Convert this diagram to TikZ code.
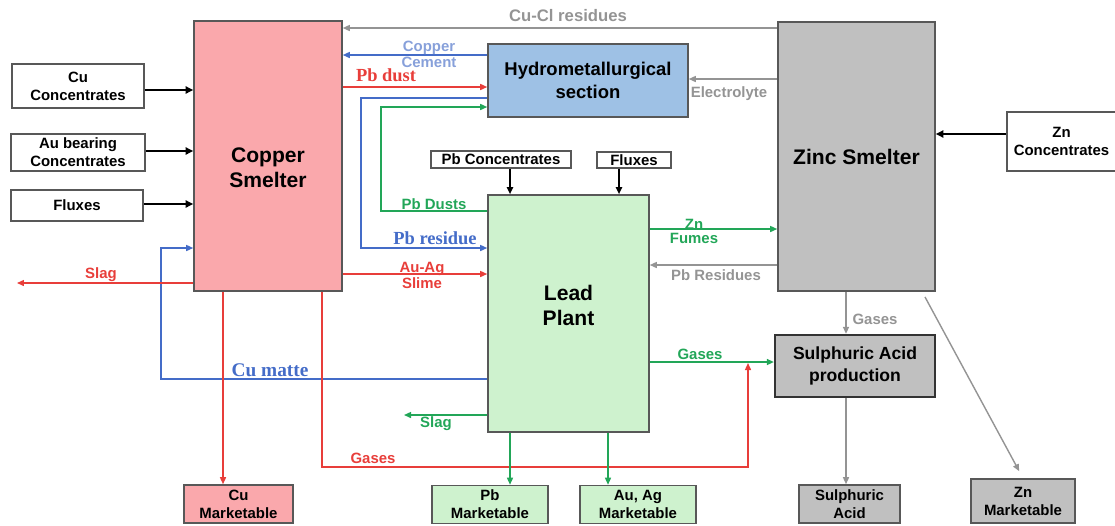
\documentclass[tikz,border=0pt]{standalone}
\usepackage{fontspec}
\setmainfont{Liberation Sans}
\newfontfamily\timesfam{Liberation Serif}
\usetikzlibrary{arrows.meta}
\definecolor{pinkfill}{RGB}{250,168,172}
\definecolor{greenfill}{RGB}{206,242,206}
\definecolor{bluefill}{RGB}{158,193,229}
\definecolor{grayfill}{RGB}{192,192,192}
\definecolor{edgegray}{RGB}{88,88,88}
\definecolor{flowred}{RGB}{232,62,58}
\definecolor{flowblue}{RGB}{68,108,200}
\definecolor{lightblue}{RGB}{135,160,218}
\definecolor{flowgreen}{RGB}{34,166,88}
\definecolor{flowgray}{RGB}{148,148,148}
\newcommand\lblfont{\fontsize{8.5}{10.2}\selectfont\bfseries}
\newcommand\bigfont{\fontsize{12}{14.2}\selectfont\bfseries}
\newcommand\serfont{\timesfam\fontsize{10.5}{12}\selectfont\bfseries}
\begin{document}
\begin{tikzpicture}[x=0.02cm, y=-0.02cm,
  blk/.style={draw=edgegray, line width=0.9pt, inner sep=0pt, align=center, font=\lblfont},
  big/.style={font=\bigfont, align=center, inner sep=0pt},
  flow/.style={line width=0.8pt, -{Triangle[length=1.4mm,width=1.2mm]}},
  feed/.style={line width=1.3pt, -{Triangle[length=1.5mm,width=1.4mm]}},
  tag/.style={font=\lblfont, inner sep=0pt, align=center},
  sertag/.style={font=\serfont, inner sep=0pt}]
\useasboundingbox (0,0) rectangle (1115,525);
% main units
\node[blk, fill=pinkfill, minimum width=2.96cm, minimum height=5.4cm] (cs) at (268,156) {};
\node[big] (cstxt) at (268,168) {Copper\\Smelter};
\node[blk, fill=bluefill, minimum width=4cm, minimum height=1.46cm, font=\fontsize{10.5}{13}\selectfont\bfseries] (hyd) at (588,80.5) {Hydrometallurgical\\section};
\node[blk, fill=grayfill, minimum width=3.14cm, minimum height=5.38cm, font=\bigfont] (zs) at (856.5,156.5) {Zinc Smelter};
\node[blk, fill=greenfill, minimum width=3.22cm, minimum height=4.74cm] (lp) at (568.5,313.5) {};
\node[big] (lptxt) at (568.5,305) {\fontsize{12}{11}\selectfont Lead\\Plant};
\node[blk, fill=grayfill, line width=1.3pt, draw=black!80, minimum width=3.2cm, minimum height=1.24cm, font=\fontsize{10}{12.5}\selectfont\bfseries] (sap) at (855,366) {Sulphuric Acid\\production};
% feeds
\node[blk, minimum width=2.64cm, minimum height=0.88cm] (cuc) at (78,86) {Cu\\Concentrates};
\node[blk, minimum width=2.68cm, minimum height=0.74cm] (auc) at (78,152.5) {Au bearing\\Concentrates};
\node[blk, minimum width=2.64cm, minimum height=0.62cm] (flx) at (77,205.5) {Fluxes};
\node[blk, minimum width=2.8cm, minimum height=0.34cm] (pbc) at (501,159.5) {Pb Concentrates};
\node[blk, minimum width=1.48cm, minimum height=0.32cm] (flx2) at (634,160) {Fluxes};
\node[blk, minimum width=2.18cm, minimum height=1.18cm] (znc) at (1061.5,141.5) {Zn\\Concentrates};
% products
\node[blk, fill=pinkfill, minimum width=2.18cm, minimum height=0.76cm] (cum) at (238.5,504) {Cu\\Marketable};
\node[blk, fill=greenfill, minimum width=2.32cm, minimum height=0.76cm] (pbm) at (490,504.5) {Pb\\Marketable};
\node[blk, fill=greenfill, minimum width=2.32cm, minimum height=0.76cm] (aum) at (638,504.5) {Au, Ag\\Marketable};
\node[blk, fill=grayfill, minimum width=2.02cm, minimum height=0.76cm] (sa) at (849.5,504) {Sulphuric\\Acid};
\node[blk, fill=grayfill, minimum width=2.08cm, minimum height=0.88cm] (znm) at (1023,501) {Zn\\Marketable};
\coordinate (zd) at (925,297);
\coordinate (slagw) at (17,283);
\coordinate (slagl) at (404,415);
% black feed arrows
\draw[feed] (cuc.east |- 0,90) -- (cs.west |- 0,90);
\draw[feed] (auc.east |- 0,151) -- (cs.west |- 0,151);
\draw[feed] (flx.east |- 0,204) -- (cs.west |- 0,204);
\draw[feed] (znc.west |- 0,134) -- (zs.east |- 0,134);
\draw[flow, line width=1pt] (pbc.south -| 510,0) -- (lp.north -| 510,0);
\draw[flow, line width=1pt] (flx2.south -| 619,0) -- (lp.north -| 619,0);
% gray flows
\draw[flow, flowgray] (zs.west |- 0,28) -- (cs.east |- 0,28);
\draw[flow, flowgray] (zs.west |- 0,79) -- (hyd.east |- 0,79);
\draw[flow, flowgray] (zs.west |- 0,265) -- (lp.east |- 0,265);
\draw[flow, flowgray] (zs.south -| 846,0) -- (sap.north -| 846,0);
\draw[flow, flowgray] (sap.south -| 846,0) -- (sa.north -| 846,0);
\draw[flow, flowgray, shorten >=0.16cm] (zd) -- (znm.north);
% blue flows
\draw[flow, flowblue] (hyd.west |- 0,55) -- (cs.east |- 0,55);
\draw[flow, flowblue] (hyd.west |- 0,98) -- (361,98) -- (361,248) -- (lp.west |- 0,248);
\draw[flow, flowblue] (lp.west |- 0,379) -- (161,379) -- (161,248) -- (cs.west |- 0,248);
% red flows
\draw[flow, flowred] (cs.east |- 0,87) -- (hyd.west |- 0,87);
\draw[flow, flowred] (cs.east |- 0,274) -- (lp.west |- 0,274);
\draw[flow, flowred] (cs.west |- 0,283) -- (slagw);
\draw[flow, flowred] (cs.south -| 223,0) -- (cum.north -| 223,0);
\draw[flow, flowred] (cs.south -| 322,0) -- (322,467) -- (748,467) -- (748,363);
% green flows
\draw[flow, flowgreen] (lp.west |- 0,211) -- (381,211) -- (381,107) -- (hyd.west |- 0,107);
\draw[flow, flowgreen] (lp.east |- 0,229) -- (zs.west |- 0,229);
\draw[flow, flowgreen] (lp.east |- 0,362) -- (sap.west |- 0,362);
\draw[flow, flowgreen] (lp.west |- 0,415) -- (slagl);
\draw[flow, flowgreen] (lp.south -| 510,0) -- (pbm.north -| 510,0);
\draw[flow, flowgreen] (lp.south -| 608,0) -- (aum.north -| 608,0);
% labels
\node[tag, flowgray, font=\fontsize{9.5}{11}\selectfont\bfseries] (tcucl) at (568,16) {Cu-Cl residues};
\node[tag, lightblue] (tcem) at (429,54) {Copper\\[-1pt]Cement};
\node[sertag, flowred] (tpbd) at (386,75) {Pb dust};
\node[tag, flowgray] (telec) at (729,94) {Electrolyte};
\node[tag, flowgreen] (tpbds) at (434,204) {Pb Dusts};
\node[sertag, flowblue] (tpbr) at (435,238) {Pb residue};
\node[tag, flowred] (tauag) at (422,275.5) {Au-Ag\\[-1pt]Slime};
\node[tag, flowred] (tslag) at (101,275) {Slag};
\node[tag, flowgreen] (tznf) at (694,231.5) {Zn\\[-2pt]Fumes};
\node[tag, flowgray] (tpbres) at (716,275) {Pb Residues};
\node[sertag, flowblue, font=\timesfam\fontsize{11}{12}\selectfont\bfseries] (tcum) at (270,370) {Cu matte};
\node[tag, flowgreen] (tslag2) at (436,424) {Slag};
\node[tag, flowred] (tgasr) at (373,458) {Gases};
\node[tag, flowgreen] (tgasg) at (700,354) {Gases};
\node[tag, flowgray] (tgasz) at (875,319) {Gases};
\end{tikzpicture}
\end{document}
